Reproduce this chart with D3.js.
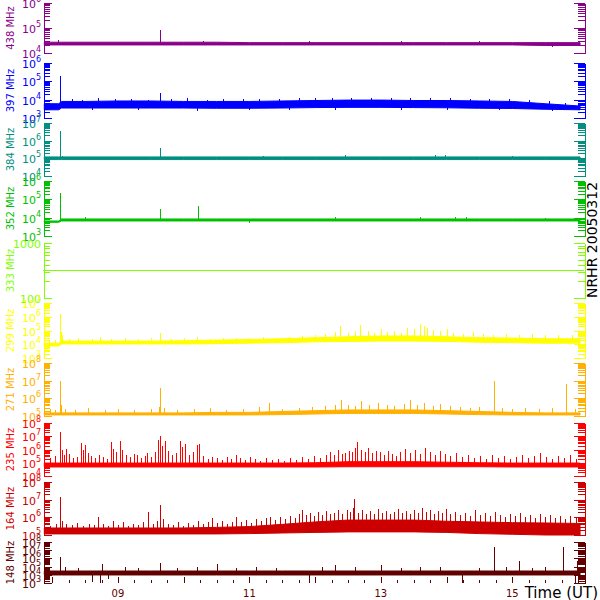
<!DOCTYPE html>
<html><head><meta charset="utf-8">
<script src="https://cdn.jsdelivr.net/npm/d3@7"></script>
<style>body{margin:0;background:#fff} svg{display:block}</style>
</head><body><svg id="c" width="600" height="600"></svg>
<script>
// ---------------- DATA ----------------
const channels = ["438 MHz","397 MHz","384 MHz","352 MHz","333 MHz","299 MHz","271 MHz","235 MHz","164 MHz","148 MHz"];
const colors   = ["#8a008a","#0000ff","#008f80","#00c000","#80ff00","#ffff00","#ffb000","#ff0000","#cc0000","#600000"];
const yMins    = [1e4, 1e3, 1e4, 1e3, 100, 1e3, 1e5, 1e4, 1e5, 1e3];
const yMaxs    = [1e6, 1e6, 1e7, 1e6, 1000, 1e7, 1e8, 1e8, 1e8, 1e8];
const timeDomain = [7.86, 16.09];
const hourTicks  = [9, 11, 13, 15];
const hourLabels = ["09", "11", "13", "15"];
const title = "NRHR 20050312";
const xTitle = "Time (UT)";

// envelope sample times (UT hours)
const times = [7.88, 8.1, 8.14, 8.5, 9, 9.5, 10, 10.5, 11, 11.5, 12, 12.5, 13, 13.5, 14, 14.5, 15, 15.5, 16.03];

const lo438 = [2.1e4,2.1e4,2.1e4,2.1e4,2.1e4,2.1e4,2.1e4,2.1e4,2.1e4,2.1e4,2.1e4,2.1e4,2.1e4,2.1e4,2.1e4,2.1e4,2.1e4,2.0e4,2.0e4];
const hi438 = [2.7e4,2.7e4,2.7e4,2.7e4,2.7e4,2.7e4,2.7e4,2.7e4,2.6e4,2.6e4,2.6e4,2.6e4,2.6e4,2.6e4,2.6e4,2.6e4,2.6e4,2.6e4,2.6e4];
const spikes438 = [[8.09,3.3e4],[9.64,8.3e4],[10.3,3.0e4],[11.9,2.9e4],[13.3,3.0e4],[14.5,2.95e4],[15.6,1.8e4]];

const lo397 = [2.8e3,2.8e3,3.5e3,3.5e3,3.5e3,3.5e3,3.5e3,3.4e3,3.4e3,3.5e3,3.7e3,3.8e3,3.8e3,3.7e3,3.6e3,3.4e3,3.3e3,3.0e3,2.8e3];
const hi397 = [6.0e3,6.0e3,8.0e3,8.0e3,8.5e3,8.5e3,8.0e3,8.0e3,8.0e3,8.5e3,9.0e3,9.5e3,9.5e3,9.0e3,9.0e3,8.5e3,8.0e3,6.0e3,4.5e3];
const spikes397 = [[8.12,1.9e5],[9.64,2.3e4],
  [8.3,1.1e4],[8.45,1.0e4],[8.7,1.2e4],[8.95,1.05e4],[9.2,1.15e4],[9.45,1.0e4],[9.8,1.1e4],[10.05,1.25e4],[10.35,1.0e4],[10.6,1.1e4],
  [10.9,1.05e4],[11.15,1.15e4],[11.45,1.1e4],[11.75,1.2e4],[12.0,1.25e4],[12.25,1.3e4],[12.55,1.2e4],[12.85,1.3e4],[13.15,1.25e4],
  [13.45,1.3e4],[13.75,1.2e4],[14.05,1.2e4],[14.35,1.1e4],[14.65,1.15e4],[14.95,1.05e4],[15.25,1.0e4],[15.55,8.5e3],[15.8,7e3],
  [8.6,2.6e3],[9.3,2.7e3],[10.2,2.5e3],[11.0,2.6e3],[11.6,2.7e3],[12.3,2.8e3],[13.3,2.9e3],[14.0,2.7e3],[14.8,2.6e3],[15.6,2.4e3]];

const lo384 = [8.5e4,8.5e4,8.5e4,8.5e4,8.5e4,8.5e4,8.5e4,8.5e4,8.5e4,8.5e4,8.5e4,8.5e4,8.5e4,8.5e4,8.5e4,8.5e4,8.5e4,8.5e4,8.5e4];
const hi384 = [1.2e5,1.2e5,1.2e5,1.2e5,1.2e5,1.2e5,1.2e5,1.2e5,1.2e5,1.2e5,1.2e5,1.2e5,1.2e5,1.2e5,1.2e5,1.2e5,1.2e5,1.2e5,1.2e5];
const spikes384 = [[8.12,3.5e6],[8.15,1.3e5],[9.64,3.8e5],[11.2,1.35e5],[12.45,1.5e5],[13.82,1.6e5],[13.97,1.6e5],[15.0,1.3e5]];

const lo352 = [5.6e3,5.6e3,6.6e3,6.6e3,6.6e3,6.6e3,6.6e3,6.6e3,6.6e3,6.6e3,6.6e3,6.6e3,6.6e3,6.6e3,6.6e3,6.6e3,6.6e3,6.6e3,6.6e3];
const hi352 = [6.6e3,6.6e3,8.5e3,8.5e3,8.5e3,8.5e3,8.5e3,8.5e3,8.5e3,8.5e3,8.5e3,8.5e3,8.5e3,8.5e3,8.5e3,8.5e3,8.5e3,8.5e3,8.5e3];
const spikes352 = [[8.12,2.2e5],[9.64,3.0e4],[10.22,4.4e4],[8.5,1.1e4],[12.3,1.05e4],[13.6,1.1e4],[14.13,1.05e4],[14.3,1.05e4],[11.0,5.2e3],[15.5,1.0e4]];

const t333 = [7.86, 16.09];
const v333 = [320, 320];

const lo299 = [7.5e3,7.5e3,1.05e4,1.05e4,1.05e4,1.05e4,1.05e4,1.1e4,1.2e4,1.3e4,1.5e4,1.6e4,1.7e4,1.7e4,1.6e4,1.4e4,1.3e4,1.2e4,1.2e4];
const hi299 = [1.2e4,1.2e4,1.7e4,1.7e4,1.7e4,1.7e4,1.8e4,2.0e4,2.2e4,2.5e4,3.0e4,3.5e4,4.0e4,4.0e4,3.5e4,3.0e4,2.8e4,2.5e4,2.5e4];
const spikes299 = [[7.95,1.8e4],[8.05,2e4],[8.12,1.6e6],[8.13,8e4],[8.15,4.5e4],[8.25,2.5e4],[8.4,2.8e4],[8.6,2.5e4],[8.73,3.5e4],[8.9,2.5e4],
  [9.1,2.8e4],[9.3,2.5e4],[9.5,2.8e4],[9.64,7e4],[9.8,2.5e4],[10.0,2.8e4],[10.2,3.2e4],[10.4,2.5e4],[10.6,2.8e4],[10.8,3e4],[11.0,2.8e4],
  [11.2,3.2e4],[11.4,3e4],[11.6,3.5e4],[11.8,4e4],[12.0,5e4],[12.15,6e4],[12.3,8e4],[12.38,2e5],[12.5,7e4],[12.6,1e5],[12.68,2.5e5],
  [12.8,9e4],[12.9,7e4],[13.0,1.2e5],[13.1,8e4],[13.2,1e5],[13.3,7e4],[13.4,1.5e5],[13.5,1.2e5],[13.59,3e5],[13.65,2e5],[13.7,1.5e5],
  [13.8,1.1e5],[13.9,9e4],[14.0,1.2e5],[14.1,7e4],[14.25,6e4],[14.4,8e4],[14.55,6e4],[14.7,5e4],[14.9,6e4],[15.1,5e4],[15.3,6e4],
  [15.5,5e4],[15.7,4.5e4],[15.9,5e4]];

const lo271 = [1.15e5,1.15e5,1.15e5,1.15e5,1.15e5,1.15e5,1.15e5,1.15e5,1.15e5,1.2e5,1.3e5,1.4e5,1.4e5,1.4e5,1.3e5,1.2e5,1.15e5,1.15e5,1.15e5];
const hi271 = [1.5e5,1.5e5,1.5e5,1.5e5,1.5e5,1.5e5,1.5e5,1.6e5,1.6e5,1.8e5,2.0e5,2.2e5,2.2e5,2.2e5,2.0e5,1.8e5,1.6e5,1.5e5,1.5e5];
const spikes271 = [[7.97,2.5e5],[8.05,2.2e5],[8.12,9.6e6],[8.14,4.2e5],[8.2,2.5e5],[8.35,2.2e5],[8.55,2.8e5],[8.8,2.2e5],[9.0,2.5e5],
  [9.25,2.2e5],[9.5,2.5e5],[9.62,3.2e5],[9.64,3.9e6],[9.7,2.8e5],[9.9,2.2e5],[10.15,2.5e5],[10.4,2.8e5],[10.65,2.2e5],[10.9,2.5e5],
  [11.15,3.2e5],[11.3,5.5e5],[11.5,2.5e5],[11.75,2.8e5],[11.95,3.2e5],[12.15,3.6e5],[12.3,4.2e5],[12.4,8.1e5],[12.5,4.2e5],[12.6,3.6e5],
  [12.7,7e5],[12.82,4.2e5],[12.95,5.5e5],[13.1,4.2e5],[13.2,3.6e5],[13.35,4.8e5],[13.45,8.1e5],[13.55,4.2e5],[13.65,5.5e5],[13.8,3.6e5],
  [13.9,4.8e5],[14.05,3.6e5],[14.2,3.2e5],[14.35,2.8e5],[14.5,3.2e5],[14.72,1e7],[14.85,2.8e5],[15.0,2.5e5],[15.2,2.8e5],[15.4,2.5e5],
  [15.6,2.8e5],[15.82,6.4e6],[15.95,2.5e5]];

const lo235 = [4.8e4,4.8e4,4.8e4,4.8e4,4.8e4,4.8e4,4.8e4,4.8e4,4.8e4,4.8e4,4.8e4,5e4,5e4,5e4,5e4,5e4,4.8e4,4.8e4,4.8e4];
const hi235 = [9.5e4,9.5e4,9.5e4,9.5e4,9.5e4,9.5e4,9.5e4,9.5e4,9.5e4,9.5e4,1.0e5,1.2e5,1.2e5,1.2e5,1.1e5,1.0e5,9.5e4,9.5e4,9.5e4];
const spikes235 = [[7.97,2.3e5],[8.04,3.2e5],[8.12,2.1e7],[8.15,9e5],[8.18,3.8e5],[8.21,1.1e6],[8.26,4.6e5],[8.32,2.3e5],[8.38,2.7e5],
  [8.44,3.1e6],[8.47,9e5],[8.5,2.2e6],[8.54,5.5e5],[8.59,3.2e5],[8.65,2.3e5],[8.71,3.8e5],[8.77,2.7e5],[8.83,1.9e5],[8.89,3.7e6],
  [8.92,1.1e6],[8.97,6.5e5],[9.03,4.4e6],[9.06,9e5],[9.12,3.8e5],[9.18,2.7e5],[9.24,4.6e5],[9.29,3.8e5],[9.35,2.3e5],[9.41,3.2e5],
  [9.44,5.5e5],[9.5,2.7e5],[9.56,6.5e5],[9.61,5.2e6],[9.64,1.05e7],[9.67,1.8e6],[9.72,4.4e6],[9.76,7.6e5],[9.82,3.8e5],[9.88,5.5e5],
  [9.94,4.4e6],[9.97,1.55e6],[10.02,2.6e6],[10.08,3.8e5],[10.14,6.5e5],[10.2,2.2e6],[10.23,2.6e6],[10.29,3.2e5],[10.37,1.9e5],
  [10.43,2.7e5],[10.51,2.3e5],[10.58,1.6e5],[10.66,2.7e5],[10.72,1.9e5],[10.79,3.8e5],[10.86,2.3e5],[10.93,1.6e5],[11.01,2.7e5],
  [11.08,1.9e5],[11.16,1.35e5],[11.25,2.3e5],[11.34,1.6e5],[11.43,1.9e5],[11.53,1.35e5],[11.62,2.3e5],[11.71,1.6e5],[11.8,2.7e5],
  [11.89,1.9e5],[11.98,3.2e5],[12.07,2.3e5],[12.16,3.8e5],[12.22,6.5e5],[12.29,3.8e5],[12.35,9e5],[12.41,4.6e5],[12.45,5.5e5],
  [12.51,7.6e5],[12.56,6.5e5],[12.61,1.3e6],[12.64,3.7e6],[12.7,9e5],[12.76,6.5e5],[12.8,1.3e6],[12.86,5.5e5],[12.92,7.6e5],
  [12.99,6.5e5],[13.05,3.8e5],[13.11,7.6e5],[13.17,4.6e5],[13.23,3.2e5],[13.29,6.5e5],[13.37,1.1e6],[13.44,5.5e5],[13.52,9e5],
  [13.59,4.6e5],[13.67,1.3e6],[13.75,6.5e5],[13.82,3.8e5],[13.9,7.6e5],[13.97,4.6e5],[14.05,3.2e5],[14.14,5.5e5],[14.23,2.7e5],
  [14.32,3.8e5],[14.42,2.3e5],[14.51,3.2e5],[14.6,1.9e5],[14.69,3.8e5],[14.78,2.3e5],[14.87,3.2e5],[14.96,1.9e5],[15.05,2.7e5],
  [15.15,3.8e5],[15.24,2.3e5],[15.33,3.2e5],[15.42,5.5e5],[15.51,2.7e5],[15.6,1.9e5],[15.69,3.2e5],[15.78,2.3e5],[15.88,3.8e5],[15.97,1.9e5]];

const lo164 = [1.15e5,1.15e5,1.15e5,1.15e5,1.15e5,1.15e5,1.15e5,1.15e5,1.2e5,1.3e5,1.4e5,1.5e5,1.5e5,1.5e5,1.4e5,1.2e5,1.1e5,1.0e5,1.0e5];
const hi164 = [2.5e5,2.5e5,2.5e5,2.5e5,2.5e5,2.5e5,2.5e5,2.7e5,3e5,4e5,5.5e5,7e5,7e5,7e5,6e5,5.5e5,5e5,4.8e5,4.5e5];
const spikes164 = [[7.97,3.2e5],[8.06,4.2e5],[8.12,1.4e7],[8.15,6.2e5],[8.21,4.2e5],[8.3,3.7e5],[8.38,4.8e5],[8.47,3.2e5],[8.56,4.2e5],
  [8.64,3.7e5],[8.7,1.05e6],[8.77,4.2e5],[8.85,3.2e5],[8.92,6.2e5],[9.0,3.7e5],[9.08,5.5e5],[9.15,3.2e5],[9.23,4.2e5],[9.3,3.7e5],
  [9.38,5.5e5],[9.46,2e6],[9.53,4.2e5],[9.59,6.2e5],[9.64,5e6],[9.68,8.1e5],[9.76,4.2e5],[9.84,3.7e5],[9.91,5.5e5],[9.99,3.2e5],
  [10.06,4.8e5],[10.14,3.7e5],[10.22,6.2e5],[10.29,4.2e5],[10.37,5.5e5],[10.43,9e5],[10.51,4.8e5],[10.58,6.2e5],[10.66,4.2e5],
  [10.73,5.5e5],[10.79,1.05e6],[10.87,5.5e5],[10.95,7e5],[11.02,4.8e5],[11.1,8.1e5],[11.18,6.2e5],[11.25,9e5],[11.31,1.05e6],
  [11.39,7e5],[11.46,1.05e6],[11.54,8.1e5],[11.62,1.2e6],[11.69,9e5],[11.75,1.55e6],[11.8,2.6e6],[11.86,1.35e6],[11.92,1.7e6],
  [11.98,1.2e6],[12.04,2e6],[12.1,1.35e6],[12.16,2.3e6],[12.23,1.55e6],[12.29,1.7e6],[12.35,2.6e6],[12.41,1.55e6],[12.48,2.6e6],
  [12.53,2e6],[12.57,3.4e6],[12.59,1.1e7],[12.65,1.7e6],[12.71,2.6e6],[12.77,1.55e6],[12.83,2.3e6],[12.89,1.55e6],[12.95,3e6],
  [13.02,1.7e6],[13.08,2.3e6],[13.14,1.55e6],[13.2,2e6],[13.26,3e6],[13.32,1.7e6],[13.38,2.3e6],[13.44,1.55e6],[13.5,2.6e6],
  [13.56,1.7e6],[13.62,3.4e6],[13.68,2e6],[13.75,2.6e6],[13.81,1.55e6],[13.87,2.3e6],[13.93,1.7e6],[13.99,3e6],[14.05,1.55e6],
  [14.13,2e6],[14.2,1.35e6],[14.28,1.7e6],[14.35,1.2e6],[14.43,2.6e6],[14.51,1.35e6],[14.58,1.7e6],[14.66,1.2e6],[14.73,2e6],
  [14.81,1.35e6],[14.89,1.05e6],[14.96,1.55e6],[15.04,1.2e6],[15.11,1.7e6],[15.19,1.05e6],[15.27,1.35e6],[15.34,9e5],[15.42,1.55e6],
  [15.5,1.05e6],[15.57,1.35e6],[15.65,9e5],[15.72,1.2e6],[15.8,8.1e5],[15.88,1.2e6],[15.97,9e5]];

const lo148 = [9.5e3,9.5e3,9.5e3,9.5e3,9.5e3,9.5e3,9.5e3,9.5e3,9.5e3,9.5e3,9.5e3,9.5e3,9.5e3,9.5e3,9.5e3,9.5e3,9.5e3,9.5e3,9.5e3];
const hi148 = [2.9e4,2.9e4,2.9e4,2.9e4,2.9e4,2.9e4,2.9e4,2.9e4,2.9e4,2.9e4,2.9e4,2.9e4,2.9e4,2.9e4,2.9e4,2.9e4,2.9e4,2.9e4,2.9e4];
const spikes148 = [[8.12,1.5e6],[8.2,8e4],[8.4,7e4],[8.6,1.3e3],[8.73,1e3],[8.75,2e5],[8.85,3e3],[9.1,8e4],[9.3,6e4],[9.64,3e5],
  [9.9,7e4],[10.2,1e5],[10.5,2e5],[10.8,6e4],[11.1,8e4],[11.4,7e4],[11.9,1e3],[12.1,9e4],[12.3,1.5e5],[12.6,8e4],[13.0,1.5e5],
  [13.3,7e4],[13.6,9e4],[13.9,8e4],[14.23,1e3],[14.5,7e4],[14.72,2.4e7],[14.9,8e4],[15.1,4.8e5],[15.3,7e4],[15.5,9e4],[15.77,2.4e7],
  [15.95,1e3],[15.98,5e5],[16.0,1e3]];

// ---------------- DRAW ----------------
const series = [
  {lo: lo438, hi: hi438, spikes: spikes438},
  {lo: lo397, hi: hi397, spikes: spikes397},
  {lo: lo384, hi: hi384, spikes: spikes384},
  {lo: lo352, hi: hi352, spikes: spikes352},
  {line: true, t: t333, v: v333},
  {lo: lo299, hi: hi299, spikes: spikes299},
  {lo: lo271, hi: hi271, spikes: spikes271},
  {lo: lo235, hi: hi235, spikes: spikes235},
  {lo: lo164, hi: hi164, spikes: spikes164},
  {lo: lo148, hi: hi148, spikes: spikes148}
];
const panels = [[3,53],[63,118],[123,176],[181,236],[243,298],[303,358],[363,416],[423,476],[482,535],[542,583]];
const X0 = 43, X1 = 584;
const FONT = "DejaVu Sans";

const svg = d3.select("#c");
const x = d3.scaleLinear().domain(timeDomain).range([X0, X1]);

channels.forEach((name, i) => {
  const [top, bot] = panels[i];
  const col = colors[i];
  const y = d3.scaleLog().domain([yMins[i], yMaxs[i]]).range([bot, top]);
  const g = svg.append("g");
  const s = series[i];

  if (s.line) {
    g.append("path").datum(d3.zip(s.t, s.v))
      .attr("d", d3.line().x(d => x(d[0])).y(d => Math.round(y(d[1])) + 0.5))
      .attr("fill", "none").attr("stroke", col).attr("stroke-width", 1).attr("shape-rendering", "crispEdges");
  } else {
    const rows = times.map((t, k) => ({t, lo: s.lo[k], hi: s.hi[k]}));
    g.append("path").datum(rows)
      .attr("d", d3.area().x(d => x(d.t)).y0(d => y(d.lo)).y1(d => y(d.hi)))
      .attr("fill", col).attr("stroke", col).attr("stroke-width", 1);
    const mid = d3.scaleLinear().domain(times).range(times.map((t, k) => Math.sqrt(s.lo[k] * s.hi[k])));
    g.selectAll("line.sp").data(s.spikes).join("line")
      .attr("x1", d => Math.round(x(d[0])) + 0.5).attr("x2", d => Math.round(x(d[0])) + 0.5)
      .attr("y1", d => y(mid(d[0]))).attr("y2", d => y(Math.max(yMins[i], d[1])))
      .attr("stroke", col).attr("stroke-width", 1).attr("shape-rendering", "crispEdges");
  }

  // axes ticks (inward)
  const all = y.ticks();
  const isMajor = v => Math.abs(Math.log10(v) - Math.round(Math.log10(v))) < 1e-9;
  const major = all.filter(isMajor), minor = all.filter(v => !isMajor(v));
  const tickG = (gen, xpos) => g.append("g").attr("transform", `translate(${xpos},0)`).call(gen)
      .call(a => a.selectAll("text").remove())
      .call(a => a.selectAll("line,path").attr("stroke", col).attr("shape-rendering", "crispEdges"));
  tickG(d3.axisRight(y).tickValues(major).tickSizeInner(8).tickSizeOuter(0), X0 + 0.5);
  tickG(d3.axisRight(y).tickValues(minor).tickSizeInner(6).tickSizeOuter(0), X0 + 0.5);
  tickG(d3.axisLeft(y).tickValues(major).tickSizeInner(11).tickSizeOuter(0), X1 + 0.5);
  tickG(d3.axisLeft(y).tickValues(minor).tickSizeInner(7).tickSizeOuter(0), X1 + 0.5);

  // tick labels
  major.forEach(v => {
    const e = Math.round(Math.log10(v));
    const t = g.append("text").attr("x", 41).attr("y", y(v) + 5)
      .attr("text-anchor", "end").attr("fill", col)
      .attr("font-family", FONT).attr("font-size", 11);
    if (yMins[i] === 100) { t.text(String(v)); }
    else {
      t.append("tspan").text("10");
      t.append("tspan").attr("dy", -6).attr("font-size", 8).text(String(e));
    }
  });

  // channel label
  g.append("text").attr("transform", `translate(14,${(top + bot) / 2}) rotate(-90)`)
    .attr("text-anchor", "middle").attr("fill", col)
    .attr("font-family", FONT).attr("font-size", 10).text(name);
});

// x axis
const last = panels[panels.length - 1][1];
const xc = colors[colors.length - 1];
const quarter = d3.range(8, 16.1, 0.25);
svg.append("g").selectAll("line").data(quarter).join("line")
  .attr("x1", d => Math.round(x(d)) + 0.5).attr("x2", d => Math.round(x(d)) + 0.5)
  .attr("y1", last).attr("y2", d => last - (Number.isInteger(d) ? 6 : 3))
  .attr("stroke", xc).attr("shape-rendering", "crispEdges");
svg.append("g").selectAll("text").data(hourTicks).join("text")
  .attr("x", d => x(d)).attr("y", 597).attr("text-anchor", "middle")
  .attr("fill", xc).attr("font-family", FONT).attr("font-size", 10)
  .text((d, k) => hourLabels[k]);
svg.append("text").attr("x", 598).attr("y", 598).attr("text-anchor", "end")
  .attr("fill", "#000").attr("font-family", FONT).attr("font-size", 15).text(xTitle);
svg.append("text").attr("transform", "translate(597,240) rotate(-90)")
  .attr("text-anchor", "middle").attr("fill", "#000")
  .attr("font-family", FONT).attr("font-size", 14).text(title);
</script></body></html>
